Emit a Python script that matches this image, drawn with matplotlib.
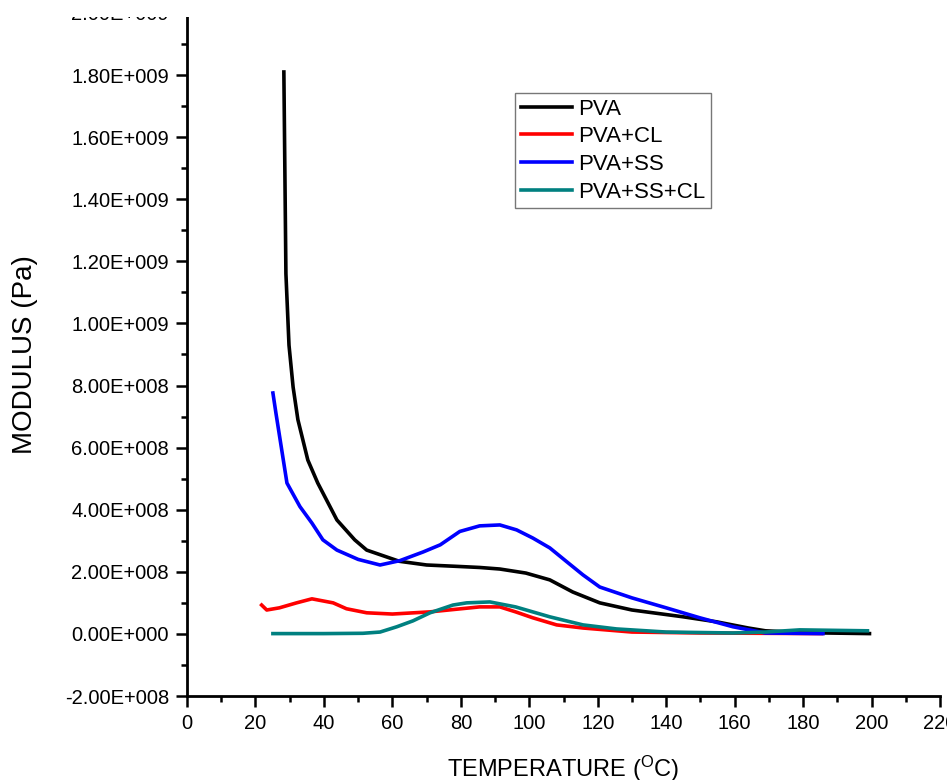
import matplotlib
matplotlib.use('Agg')
import matplotlib.pyplot as plt
from matplotlib.patches import Rectangle
from matplotlib.ticker import MultipleLocator, FuncFormatter

plt.rcParams['font.family'] = ['Liberation Sans', 'DejaVu Sans']
plt.rcParams['mathtext.fontset'] = 'custom'
plt.rcParams['mathtext.rm'] = 'Liberation Sans'

# temperature (degC) / modulus (Pa)
pva_t = [28.3, 28.9, 29.8, 31.0, 32.4, 35.3, 38.2, 43.8, 49.0, 52.5, 62.0,
         70.0, 78.0, 85.5, 91.4, 99.0, 106.0, 112.7, 120.6, 130.0, 145.0,
         154.7, 164.0, 169.0, 180.0, 199.4]
pva_m = [1.81e9, 1.16e9, 9.3e8, 7.95e8, 6.9e8, 5.6e8, 4.86e8, 3.67e8, 3.03e8,
         2.7e8, 2.34e8, 2.22e8, 2.18e8, 2.14e8, 2.09e8, 1.96e8, 1.74e8,
         1.35e8, 1.0e8, 7.7e7, 5.5e7, 3.9e7, 1.9e7, 1.0e7, 4e6, 1e6]

cl_t = [21.8, 23.3, 27.0, 32.0, 36.5, 42.7, 46.6, 52.5, 60.0, 71.0, 85.5,
        91.4, 96.0, 101.0, 108.0, 115.7, 130.0, 150.0, 185.4]
cl_m = [9.3e7, 7.7e7, 8.4e7, 1.0e8, 1.13e8, 1.0e8, 8.1e7, 6.8e7, 6.4e7,
        7.1e7, 8.7e7, 8.7e7, 7.1e7, 5.2e7, 2.9e7, 1.9e7, 6e6, 3e6, 1e6]

ss_t = [25.1, 26.0, 29.2, 33.0, 36.5, 39.7, 43.8, 50.0, 56.4, 62.2, 69.0,
        74.0, 79.7, 85.5, 91.4, 96.3, 101.0, 106.0, 111.0, 115.7, 120.6,
        130.0, 140.0, 149.8, 159.5, 169.0, 185.8]
ss_m = [7.76e8, 7.1e8, 4.86e8, 4.1e8, 3.57e8, 3.03e8, 2.7e8, 2.4e8, 2.22e8,
        2.36e8, 2.64e8, 2.87e8, 3.3e8, 3.48e8, 3.51e8, 3.35e8, 3.09e8,
        2.77e8, 2.32e8, 1.9e8, 1.51e8, 1.16e8, 8.4e7, 5.2e7, 2.3e7, 3e6, 1e6]

sscl_t = [25.1, 40.0, 51.4, 56.4, 61.3, 66.0, 71.0, 77.7, 81.7, 88.5, 96.0,
          106.0, 115.7, 125.5, 140.0, 159.5, 169.0, 179.0, 198.8]
sscl_m = [1e6, 1e6, 2e6, 6e6, 2.3e7, 4.2e7, 6.8e7, 9.3e7, 1.0e8, 1.03e8,
          8.7e7, 5.5e7, 2.9e7, 1.6e7, 6e6, 3e6, 6e6, 1.3e7, 1.0e7]

W, H = 947, 780
fig = plt.figure(figsize=(W / 100, H / 100), dpi=100)
ax = fig.add_axes([187 / W, (H - 696) / H, (940 - 187) / W, (696 - 13) / H])

lw = 2.6
ax.plot(pva_t, pva_m, color='black', lw=lw, label='PVA')
ax.plot(cl_t, cl_m, color='#ff0000', lw=lw, label='PVA+CL')
ax.plot(ss_t, ss_m, color='#0000ff', lw=lw, label='PVA+SS')
ax.plot(sscl_t, sscl_m, color='#008080', lw=lw, label='PVA+SS+CL')

ax.set_xlim(0, 220)
ax.set_ylim(-2e8, 2e9)
ax.xaxis.set_major_locator(MultipleLocator(20))
ax.xaxis.set_minor_locator(MultipleLocator(10))
ax.yaxis.set_major_locator(MultipleLocator(2e8))
ax.yaxis.set_minor_locator(MultipleLocator(1e8))


def sci_fmt(v, pos):
    if abs(v) < 1:
        return '0.00E+000'
    exp = 0
    m = abs(v)
    while m >= 10:
        m /= 10
        exp += 1
    sign = '-' if v < 0 else ''
    return f'{sign}{m:.2f}E+{exp:03d}'


ax.yaxis.set_major_formatter(FuncFormatter(sci_fmt))

for s in ['top', 'right']:
    ax.spines[s].set_visible(False)
for s in ['left', 'bottom']:
    ax.spines[s].set_linewidth(2)
ax.tick_params(which='major', direction='out', length=8, width=1.8,
               labelsize=14.5, pad=5)
ax.tick_params(which='minor', direction='out', length=4, width=1.8)

ax.set_xlabel(r'TEMPERATURE ($\mathregular{^{O}}$C)', fontsize=17, labelpad=15)
ax.set_ylabel('MODULUS (Pa)', fontsize=20, labelpad=19)

leg = ax.legend(loc='upper left', bbox_to_anchor=(515 / W, 1 - 93 / H),
                bbox_transform=fig.transFigure, fontsize=16, frameon=True,
                fancybox=False, borderpad=0.25, labelspacing=0.3,
                handlelength=2.3, handletextpad=0.3, borderaxespad=0)
leg.get_frame().set_edgecolor('#555555')
leg.get_frame().set_linewidth(1)

# the reference is cropped at the top
fig.add_artist(Rectangle((0, 1 - 17 / H), 1, 17 / H, transform=fig.transFigure,
                         facecolor='white', edgecolor='none', zorder=10))

fig.savefig('out.png', dpi=100, facecolor='white')
